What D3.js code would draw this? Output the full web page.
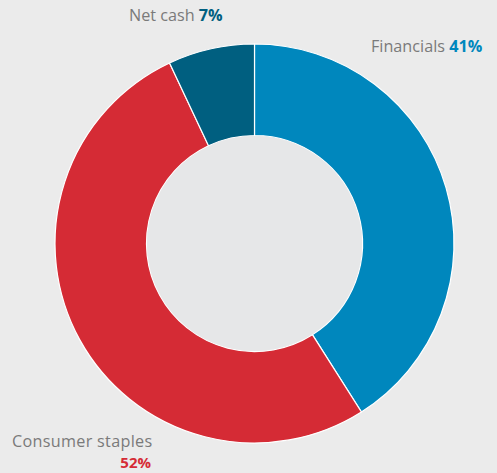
<!DOCTYPE html>
<meta charset="utf-8">
<style>
  body { margin: 0; background: #ebebeb; }
  svg { display: block; }
</style>
<svg width="497" height="473"></svg>
<script src="https://d3js.org/d3.v7.min.js"></script>
<script>
const categories = ["Financials", "Consumer staples", "Net cash"];
const values = [41, 52, 7];
const colors = ["#0087bd", "#d52b35", "#005f80"];

const svg = d3.select("svg"),
    width = +svg.attr("width"),
    height = +svg.attr("height");

const cx = 254.5, cy = 243.5, outerR = 199.5, innerR = 108;

svg.append("rect").attr("width", width).attr("height", height).attr("fill", "#ebebeb");

const pie = d3.pie().sort(null).value(d => d.value);
const arc = d3.arc().innerRadius(innerR).outerRadius(outerR);
const data = categories.map((c, i) => ({name: c, value: values[i], color: colors[i]}));

const g = svg.append("g").attr("transform", `translate(${cx},${cy})`);
g.selectAll("path")
  .data(pie(data))
  .join("path")
  .attr("d", arc)
  .attr("fill", d => d.data.color)
  .attr("stroke", "#fff")
  .attr("stroke-width", 1.2);

g.append("circle").attr("r", innerR - 0.5).attr("fill", "#e6e7e8");

// labels
const labelFont = "'Open Sans', sans-serif";
const fs = 16.2;
function label(x, y, name, pct, color) {
  const t = svg.append("text")
    .attr("x", x).attr("y", y)
    .attr("font-family", labelFont)
    .attr("font-size", fs);
  t.append("tspan").attr("fill", "#7a7a7a").text(name + " ");
  t.append("tspan").attr("fill", color).attr("font-weight", "bold").text(pct + "%");
}
label(129, 21, categories[2], values[2], colors[2]);
label(371, 52, categories[0], values[0], colors[0]);

svg.append("text")
  .attr("x", 12).attr("y", 447)
  .attr("font-family", labelFont).attr("font-size", fs)
  .attr("letter-spacing", 0.3)
  .attr("fill", "#7a7a7a").text(categories[1]);
svg.append("text")
  .attr("x", 151).attr("y", 468.2)
  .attr("text-anchor", "end")
  .attr("font-family", labelFont).attr("font-size", 15)
  .attr("font-weight", "bold")
  .attr("fill", colors[1]).text(values[1] + "%");
</script>
